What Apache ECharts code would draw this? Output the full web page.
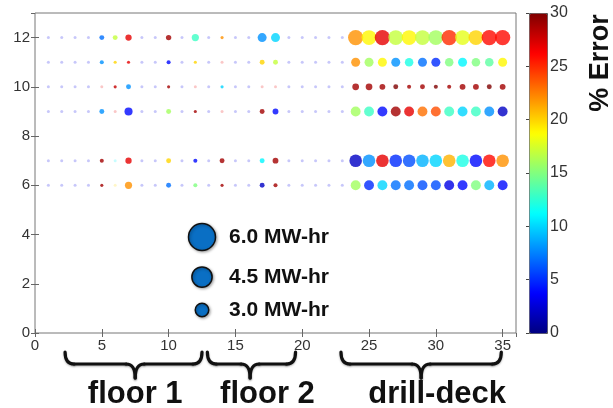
<!DOCTYPE html>
<html><head><meta charset="utf-8">
<script src="https://cdn.jsdelivr.net/npm/echarts@6/dist/echarts.min.js"></script>
<style>html,body{margin:0;padding:0;background:#fff}#c{width:613px;height:408px}</style>
</head><body><div id="c"></div>
<script>
// x positions (sensor index) and rows (y)
const xPositions = [1,2,3,4,5,6,7,8,9,10,11,12,13,14,15,16,17,18,19,20,21,22,23,24,25,26,27,28,29,30,31,32,33,34,35];
const rows = [12, 11, 10, 9, 7, 6];
// % error per row (x = 1..35)
const err12 = [3,3,3,3,7,17,27,3,3,29,3,13,3,22,3,3,8,10,3,3,3,3,3,22,19,27,17,19,17,16,25,18,20,26,26];
const err11 = [3,3,3,3,8,20,27,3,3,4,3,20,3,27,3,3,20,17,3,3,3,3,3,22,16,19,8,12,7,5,15,11,15,14,19];
const err10 = [3,3,3,3,27,28,8,3,3,29,3,27,3,10,3,3,27,27,3,3,3,3,3,29,29,29,30,29,29,30,29,29,29,30,29];
const err9  = [3,3,3,3,8,27,4,3,3,16,3,29,3,27,3,3,29,4,3,3,3,3,3,16,13,4,29,27,23,24,13,10,13,8,2];
const err7  = [3,3,3,3,29,11,27,3,3,20,3,4,3,29,3,3,11,29,3,3,3,3,3,2,8,27,5,6,9,10,21,12,4,26,22];
const err6  = [3,3,3,3,29,20,22,3,3,7,3,15,3,29,3,3,2,29,3,3,3,3,3,16,5,10,7,7,6,6,3,4,15,9,4];
// energy (MW-hr) per row; 0 = negligible
const en12 = [0,0,0,0,1.1,1.1,1.4,0,0,1.2,0,1.6,0,0.7,0,0,2.0,2.0,0,0,0,0,0,3.4,3.3,3.4,3.3,3.3,3.3,3.3,3.4,3.3,3.3,3.4,3.4];
const en11 = [0,0,0,0,0.9,0.7,0.7,0,0,0.9,0,0.7,0,0,0,0,1.1,1.1,0,0,0,0,0,2.0,2.0,2.0,2.0,1.9,2.0,2.0,1.9,2.0,1.9,1.9,2.0];
const en10 = [0,0,0,0,0,0.7,1.1,0,0,0.7,0,0,0,0.7,0,0,0,0,0,0,0,0,0,1.5,1.5,1.3,1.1,0.9,1.1,0.9,0.9,1.3,1.3,1.1,1.3];
const en9  = [0,0,0,0,1.1,0,1.8,0,0,1.1,0,0.7,0,0,0,0,1.1,1.3,0,0,0,0,0,2.2,2.2,2.2,2.2,2.2,2.2,2.2,2.2,2.2,2.2,2.2,2.2];
const en7  = [0,0,0,0,0.9,0,1.4,0,0,1.1,0,0.9,0,1.1,0,0,1.1,1.3,0,0,0,0,0,2.8,2.8,2.8,2.8,2.8,2.8,2.8,2.8,2.8,2.8,2.8,2.8];
const en6  = [0,0,0,0,0.7,0,1.6,0,0,1.1,0,0.9,0,0.7,0,0,1.1,0.9,0,0,0,0,0,2.2,2.2,2.2,2.2,2.2,2.2,2.2,2.2,2.2,2.2,2.2,2.2];
const legendEnergies = [6.0, 4.5, 3.0];
const legendLabels = ['6.0 MW-hr', '4.5 MW-hr', '3.0 MW-hr'];
const xTicks = [0,5,10,15,20,25,30,35];
const yTicks = [0,2,4,6,8,10,12];
const cbarTicks = [0,5,10,15,20,25,30];
const groupNames = ['floor 1', 'floor 2', 'drill-deck'];
const groupFrom = [2.25, 12.9, 22.9];
const groupTo = [12.5, 19.5, 34.9];
const groupTip = [7.5, 16.1, 28.9];
const groupLabelX = [7.5, 17.4, 30.1];

const jet = ['#000080','#0000ff','#0080ff','#00ffff','#80ff80','#ffff00','#ff8000','#ff0000','#800000'];
const errRows = [err12, err11, err10, err9, err7, err6];
const enRows = [en12, en11, en10, en9, en7, en6];
const K = 4.5; // px diameter per MW-hr
const data = [];
rows.forEach((y, r) => {
  xPositions.forEach((x, i) => {
    const e = enRows[r][i];
    const item = {value: [x, y, errRows[r][i], e]};
    if (e === 0) item.itemStyle = {opacity: 0.22};
    data.push(item);
  });
});
const FONT = 'Arial, "Liberation Sans", sans-serif';
const chart = echarts.init(document.getElementById('c'), null, {renderer: 'canvas'});
const tickCommon = {inside: true, length: 4, lineStyle: {color: '#666'}};
chart.setOption({
  animation: false,
  backgroundColor: '#fff',
  grid: [
    {left: 35, top: 13, width: 481, height: 320, show: true, borderColor: '#777', borderWidth: 1, backgroundColor: 'transparent'},
    {left: 529, top: 13, width: 18, height: 320, show: false}
  ],
  xAxis: [
    {gridIndex: 0, type: 'value', min: 0, max: 36, interval: 5, axisLine: {show: false}, axisTick: tickCommon,
     splitLine: {show: false}, axisLabel: {showMaxLabel: false, fontSize: 15, color: '#333', fontFamily: FONT, margin: 5}},
    {gridIndex: 0, type: 'value', position: 'top', min: 0, max: 36, interval: 5, axisLine: {show: false}, axisTick: tickCommon,
     splitLine: {show: false}, axisLabel: {show: false}},
    {gridIndex: 1, type: 'value', min: 0, max: 1, show: false}
  ],
  yAxis: [
    {gridIndex: 0, type: 'value', min: 0, max: 13, interval: 2, axisLine: {show: false}, axisTick: tickCommon,
     splitLine: {show: false}, axisLabel: {showMaxLabel: false, fontSize: 15, color: '#333', fontFamily: FONT, margin: 5}},
    {gridIndex: 0, type: 'value', position: 'right', min: 0, max: 13, interval: 2, axisLine: {show: false}, axisTick: tickCommon,
     splitLine: {show: false}, axisLabel: {show: false}},
    {gridIndex: 1, type: 'value', position: 'right', min: 0, max: 30, interval: 5, axisLine: {show: false},
     axisTick: {inside: true, length: 3, lineStyle: {color: '#444'}}, splitLine: {show: false},
     axisLabel: {fontSize: 16, color: '#333', fontFamily: FONT, margin: 3}}
  ],
  visualMap: {
    type: 'continuous', min: 0, max: 30, dimension: 2, seriesIndex: 0, calculable: false,
    inRange: {color: jet}, left: 529, top: 13, itemWidth: 18, itemHeight: 320, padding: 0,
    borderColor: '#555', borderWidth: 1, text: null, hoverLink: false
  },
  series: [{
    type: 'scatter', xAxisIndex: 0, yAxisIndex: 0, data: data,
    symbolSize: v => v[3] > 0 ? v[3] * K : 3,
    itemStyle: {borderWidth: 0}
  }]
});

const g = [];
// legend
const legY = [237, 277, 310];
legendEnergies.forEach((e, i) => {
  g.push({type: 'circle', shape: {cx: 202, cy: legY[i], r: e * K / 2},
    style: {fill: '#0a6fc4', stroke: '#111', lineWidth: 1.5, shadowBlur: 3, shadowColor: 'rgba(0,0,0,0.35)', shadowOffsetX: 1, shadowOffsetY: 1}});
  g.push({type: 'text', x: 229, y: legY[i], style: {text: legendLabels[i], font: 'bold 21px ' + FONT, fill: '#111', verticalAlign: 'middle'}});
});
// braces and group labels
const yTop = 352, yLine = 364, yTip = 378, rr = 9;
const braceStyle = {fill: null, stroke: '#111', lineWidth: 3.2, lineCap: 'round', shadowBlur: 2, shadowColor: 'rgba(0,0,0,0.3)', shadowOffsetY: 1};
function curve(x1, y1, x2, y2, cx, cy) {
  return {type: 'bezierCurve', shape: {x1, y1, x2, y2, cpx1: cx, cpy1: cy}, style: braceStyle};
}
function seg(x1, y1, x2, y2) {
  return {type: 'line', shape: {x1, y1, x2, y2}, style: braceStyle};
}
groupNames.forEach((name, i) => {
  const x1 = chart.convertToPixel({gridIndex: 0}, [groupFrom[i], 0])[0];
  const x2 = chart.convertToPixel({gridIndex: 0}, [groupTo[i], 0])[0];
  const xm = chart.convertToPixel({gridIndex: 0}, [groupTip[i], 0])[0];
  const xl = chart.convertToPixel({gridIndex: 0}, [groupLabelX[i], 0])[0];
  g.push(curve(x1, yTop, x1 + rr, yLine, x1, yLine));
  g.push(seg(x1 + rr, yLine, xm - rr, yLine));
  g.push(curve(xm - rr, yLine, xm, yTip, xm, yLine));
  g.push(curve(xm, yTip, xm + rr, yLine, xm, yLine));
  g.push(seg(xm + rr, yLine, x2 - rr, yLine));
  g.push(curve(x2 - rr, yLine, x2, yTop, x2, yLine));
  g.push({type: 'text', x: xl, y: 394, style: {text: name, font: 'bold 31px ' + FONT, fill: '#111', align: 'center', verticalAlign: 'middle'}});
});
g.push({type: 'text', x: 601, y: 63, rotation: Math.PI / 2,
  style: {text: '% Error', font: 'bold 27px ' + FONT, fill: '#111', align: 'center', verticalAlign: 'middle'}});
chart.setOption({graphic: g});
</script>
</body></html>
